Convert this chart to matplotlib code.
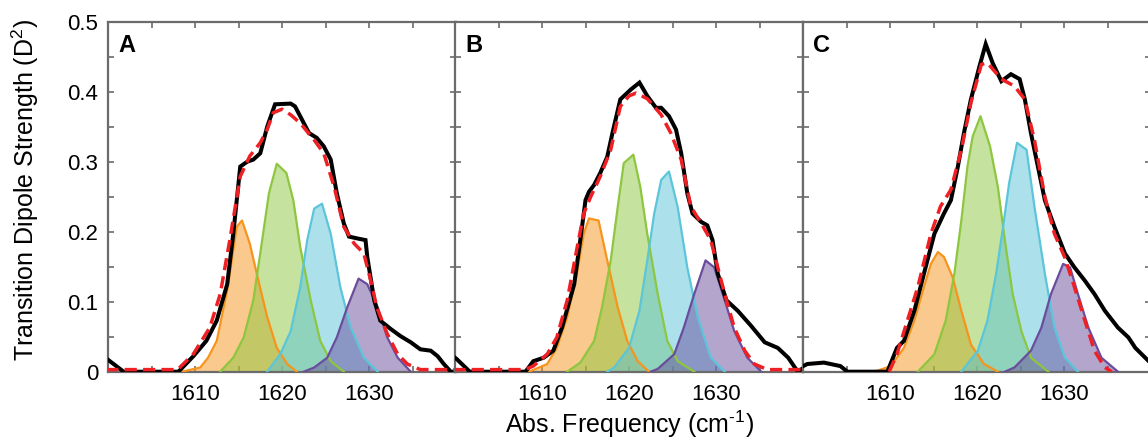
import matplotlib
matplotlib.use("Agg")
import matplotlib.pyplot as plt

plt.rcParams['font.family'] = ['Liberation Sans', 'DejaVu Sans']
plt.rcParams['mathtext.fontset'] = 'custom'
plt.rcParams['mathtext.rm'] = 'Liberation Sans'

# ---------------- Panel A ----------------
A_exp_x = [1599.8, 1601.8, 1608.1, 1609.8, 1611.3, 1612.5, 1613.7, 1614.4, 1615.2, 1616.0, 1616.7, 1617.5,
           1617.9, 1618.3, 1619.2, 1621.0, 1621.5, 1623.1, 1624.0, 1624.8, 1625.6, 1626.3, 1627.1, 1627.7,
           1628.8, 1629.6, 1629.8, 1630.6, 1631.3, 1632.5, 1633.6, 1634.8, 1635.9, 1637.1, 1637.9, 1638.6,
           1639.4, 1640.0]
A_exp_y = [0.019, 0.0, 0.0, 0.022, 0.044, 0.073, 0.125, 0.197, 0.293, 0.300, 0.303, 0.312,
           0.331, 0.350, 0.382, 0.383, 0.379, 0.341, 0.334, 0.322, 0.303, 0.255, 0.212, 0.193,
           0.190, 0.188, 0.164, 0.102, 0.073, 0.061, 0.051, 0.042, 0.032, 0.030, 0.022, 0.011,
           0.0, 0.0]
A_fit_x = [1599.8, 1608.0, 1609.8, 1611.7, 1612.9, 1614.0, 1615.2, 1616.3, 1617.5, 1618.3, 1619.0, 1620.0,
           1621.0, 1622.1, 1623.7, 1624.8, 1626.0, 1627.1, 1628.3, 1629.4, 1630.2, 1630.9, 1632.1, 1633.3,
           1634.4, 1635.9, 1640.0]
A_fit_y = [0.003, 0.003, 0.025, 0.063, 0.111, 0.188, 0.279, 0.308, 0.327, 0.346, 0.370, 0.375,
           0.367, 0.355, 0.331, 0.312, 0.264, 0.207, 0.183, 0.169, 0.130, 0.092, 0.054, 0.025,
           0.011, 0.003, 0.003]
A_orange_x = [1608.5, 1610.6, 1611.5, 1612.5, 1613.7, 1614.8, 1615.4, 1616.3, 1617.1, 1618.3, 1619.4, 1620.6, 1621.7]
A_orange_y = [0.0, 0.006, 0.020, 0.044, 0.116, 0.207, 0.216, 0.183, 0.140, 0.078, 0.034, 0.011, 0.0]
A_green_x = [1612.9, 1614.4, 1615.6, 1616.7, 1617.5, 1618.5, 1619.4, 1620.5, 1621.3, 1622.1, 1623.3, 1624.4, 1625.6, 1627.1]
A_green_y = [0.0, 0.020, 0.049, 0.102, 0.169, 0.255, 0.297, 0.284, 0.245, 0.178, 0.102, 0.044, 0.015, 0.0]
A_cyan_x = [1618.3, 1619.8, 1621.0, 1622.1, 1622.9, 1623.7, 1624.6, 1625.6, 1626.7, 1627.9, 1629.4, 1631.0]
A_cyan_y = [0.0, 0.025, 0.058, 0.121, 0.188, 0.233, 0.240, 0.197, 0.121, 0.063, 0.020, 0.0]
A_purple_x = [1622.5, 1623.7, 1625.2, 1626.3, 1627.5, 1628.8, 1629.8, 1631.0, 1632.1, 1633.3, 1634.8]
A_purple_y = [0.0, 0.006, 0.020, 0.049, 0.092, 0.133, 0.125, 0.092, 0.049, 0.020, 0.0]

# ---------------- Panel B ----------------
B_exp_x = [1599.8, 1600.2, 1601.7, 1608.1, 1609.0, 1610.2, 1611.3, 1612.3, 1613.7, 1614.4, 1615.0, 1615.4,
           1616.0, 1616.7, 1617.5, 1618.1, 1619.0, 1620.2, 1621.2, 1622.1, 1623.1, 1623.7, 1624.6, 1625.4,
           1626.0, 1626.7, 1627.3, 1628.3, 1629.0, 1629.6, 1630.2, 1631.2, 1632.5, 1634.0, 1635.6, 1637.1,
           1638.3, 1639.4, 1640.0]
B_exp_y = [0.022, 0.018, 0.0, 0.0, 0.015, 0.020, 0.030, 0.063, 0.125, 0.188, 0.245, 0.257,
           0.267, 0.284, 0.307, 0.341, 0.389, 0.403, 0.413, 0.394, 0.377, 0.377, 0.365, 0.346,
           0.312, 0.255, 0.226, 0.214, 0.209, 0.188, 0.140, 0.102, 0.087, 0.066, 0.042, 0.034,
           0.020, 0.0, 0.005]
B_fit_x = [1599.8, 1608.0, 1609.0, 1610.6, 1611.7, 1612.9, 1614.0, 1614.8, 1615.6, 1616.7, 1617.9, 1619.0,
           1620.0, 1620.8, 1622.1, 1623.7, 1624.8, 1626.0, 1627.1, 1628.3, 1629.4, 1630.2, 1631.0, 1632.1,
           1633.3, 1634.4, 1635.9, 1640.0]
B_fit_y = [0.003, 0.003, 0.008, 0.025, 0.049, 0.102, 0.175, 0.226, 0.250, 0.279, 0.317, 0.379,
           0.394, 0.398, 0.390, 0.367, 0.341, 0.303, 0.236, 0.212, 0.188, 0.149, 0.111, 0.063,
           0.030, 0.011, 0.003, 0.003]
B_orange_x = [1608.5, 1610.6, 1611.7, 1612.9, 1614.0, 1614.8, 1615.4, 1616.5, 1617.5, 1618.7, 1619.8, 1621.0, 1622.3]
B_orange_y = [0.0, 0.011, 0.034, 0.078, 0.140, 0.197, 0.219, 0.216, 0.159, 0.092, 0.044, 0.015, 0.0]
B_green_x = [1612.9, 1614.4, 1616.0, 1616.9, 1617.9, 1618.7, 1619.4, 1620.5, 1621.3, 1622.1, 1623.3, 1624.4, 1625.6, 1627.5]
B_green_y = [0.0, 0.013, 0.044, 0.092, 0.159, 0.235, 0.298, 0.310, 0.264, 0.197, 0.111, 0.044, 0.015, 0.0]
B_cyan_x = [1617.5, 1618.3, 1620.0, 1621.2, 1622.1, 1622.9, 1623.7, 1624.6, 1625.6, 1626.7, 1627.9, 1629.4, 1631.0]
B_cyan_y = [0.0, 0.006, 0.034, 0.087, 0.159, 0.226, 0.274, 0.286, 0.235, 0.149, 0.078, 0.020, 0.0]
B_purple_x = [1622.5, 1623.3, 1625.2, 1626.3, 1627.5, 1628.8, 1629.8, 1631.0, 1632.1, 1633.6, 1635.2]
B_purple_y = [0.0, 0.004, 0.025, 0.063, 0.111, 0.159, 0.149, 0.102, 0.058, 0.020, 0.0]

# ---------------- Panel C ----------------
C_exp_x = [1599.7, 1600.5, 1602.4, 1604.3, 1605.1, 1609.7, 1610.8, 1611.6, 1612.8, 1613.9, 1615.1, 1616.2,
           1617.0, 1617.8, 1618.5, 1619.3, 1620.3, 1621.0, 1621.8, 1622.8, 1623.9, 1624.9, 1625.5, 1626.2,
           1627.0, 1627.8, 1628.9, 1630.1, 1631.2, 1632.4, 1633.5, 1634.7, 1636.2, 1637.4, 1638.2, 1639.5,
           1640.0]
C_exp_y = [0.006, 0.011, 0.013, 0.008, 0.0, 0.0, 0.034, 0.044, 0.087, 0.140, 0.197, 0.226,
           0.245, 0.293, 0.341, 0.389, 0.437, 0.468, 0.441, 0.415, 0.425, 0.418, 0.389, 0.341,
           0.293, 0.245, 0.207, 0.169, 0.149, 0.130, 0.111, 0.087, 0.063, 0.049, 0.034, 0.018,
           0.012]
C_fit_x = [1609.9, 1610.8, 1612.0, 1613.2, 1614.7, 1615.8, 1617.0, 1618.2, 1619.3, 1620.5, 1621.2, 1622.8,
           1624.3, 1625.5, 1626.6, 1627.8, 1628.9, 1630.1, 1631.2, 1632.4, 1633.5, 1634.7, 1635.5]
C_fit_y = [0.0, 0.025, 0.073, 0.121, 0.197, 0.236, 0.260, 0.317, 0.384, 0.439, 0.441, 0.418,
           0.408, 0.389, 0.331, 0.250, 0.197, 0.163, 0.121, 0.073, 0.030, 0.006, 0.0]
C_orange_x = [1608.2, 1610.1, 1611.6, 1612.8, 1613.9, 1614.7, 1615.5, 1616.2, 1617.2, 1618.2, 1619.3, 1620.8, 1622.4]
C_orange_y = [0.0, 0.008, 0.034, 0.073, 0.121, 0.154, 0.171, 0.164, 0.135, 0.087, 0.039, 0.011, 0.0]
C_green_x = [1613.2, 1615.1, 1616.4, 1617.4, 1618.2, 1618.9, 1619.5, 1620.4, 1621.5, 1622.4, 1623.2, 1624.1, 1625.1, 1626.2, 1628.2]
C_green_y = [0.0, 0.025, 0.073, 0.140, 0.216, 0.293, 0.336, 0.365, 0.322, 0.264, 0.188, 0.111, 0.058, 0.020, 0.0]
C_cyan_x = [1618.2, 1620.1, 1621.2, 1622.2, 1623.0, 1623.7, 1624.6, 1625.7, 1626.6, 1627.8, 1628.9, 1630.1, 1631.6]
C_cyan_y = [0.0, 0.030, 0.073, 0.140, 0.207, 0.270, 0.327, 0.317, 0.236, 0.140, 0.063, 0.020, 0.0]
C_purple_x = [1623.2, 1624.3, 1626.2, 1627.4, 1628.5, 1629.9, 1630.7, 1631.6, 1632.8, 1634.3, 1636.2]
C_purple_y = [0.0, 0.006, 0.030, 0.063, 0.111, 0.154, 0.149, 0.111, 0.063, 0.020, 0.0]

panel_labels = ['A', 'B', 'C']
x_ticks = [1605, 1610, 1615, 1620, 1625, 1630, 1635]
x_ticklabels = ['', '1610', '', '1620', '', '1630', '']
y_ticks = [0, 0.05, 0.1, 0.15, 0.2, 0.25, 0.3, 0.35, 0.4, 0.45, 0.5]
y_ticklabels = ['0', '', '0.1', '', '0.2', '', '0.3', '', '0.4', '', '0.5']

comp_colors = ['#F7941D', '#8DC63F', '#5BC5DA', '#6A4C9C']

panels = [
    (A_exp_x, A_exp_y, A_fit_x, A_fit_y,
     [(A_orange_x, A_orange_y), (A_green_x, A_green_y), (A_cyan_x, A_cyan_y), (A_purple_x, A_purple_y)]),
    (B_exp_x, B_exp_y, B_fit_x, B_fit_y,
     [(B_orange_x, B_orange_y), (B_green_x, B_green_y), (B_cyan_x, B_cyan_y), (B_purple_x, B_purple_y)]),
    (C_exp_x, C_exp_y, C_fit_x, C_fit_y,
     [(C_orange_x, C_orange_y), (C_green_x, C_green_y), (C_cyan_x, C_cyan_y), (C_purple_x, C_purple_y)]),
]

W, H = 1148, 440
fig = plt.figure(figsize=(W / 100, H / 100), dpi=100)

lefts = [108, 455, 803]
pw = 348
bottom_px = 371.7
top_px = 21.7
spine_col = '#6b6b6b'

for i, (ex, ey, fx, fy, comps) in enumerate(panels):
    ax = fig.add_axes([lefts[i] / W, (H - bottom_px) / H, pw / W, (bottom_px - top_px) / H])
    for (cx, cy), col in zip(comps, comp_colors):
        ax.fill_between(cx, cy, 0, color=col, alpha=0.5, linewidth=0, zorder=2)
        ax.plot(cx, cy, color=col, lw=1.6, zorder=3)
    ax.plot(ex, ey, color='black', lw=2.9, zorder=4, solid_joinstyle='miter')
    ax.plot(fx, fy, color='#EE2024', lw=2.5, linestyle=(0, (3.5, 1.8)), zorder=5)

    ax.set_xlim(1600, 1640)
    ax.set_ylim(0, 0.5)
    ax.set_xticks(x_ticks)
    ax.set_xticklabels(x_ticklabels)
    ax.set_yticks(y_ticks)
    if i == 0:
        ax.set_yticklabels(y_ticklabels)
    else:
        ax.set_yticklabels([''] * len(y_ticks))
    ax.tick_params(direction='in', length=4, width=1.2, color=spine_col,
                   top=True, right=True, labelsize=16, pad=7)
    ax.tick_params(axis='x', pad=9)
    for s in ax.spines.values():
        s.set_color(spine_col)
        s.set_linewidth(1.6)
    ax.text(0.03, 0.965, panel_labels[i], transform=ax.transAxes, ha='left', va='top',
            fontsize=17, fontweight='bold', color='black', zorder=6)

fig.text(25 / W, 1 - 190 / H, r'Transition Dipole Strength (D$^{\mathrm{2}}$)', rotation=90,
         ha='center', va='center', fontsize=18)
fig.text(630 / W, 1 - 424 / H, r'Abs. Frequency (cm$^{\text{-1}}$)', ha='center', va='center',
         fontsize=18)

fig.savefig('out.png', dpi=100)
